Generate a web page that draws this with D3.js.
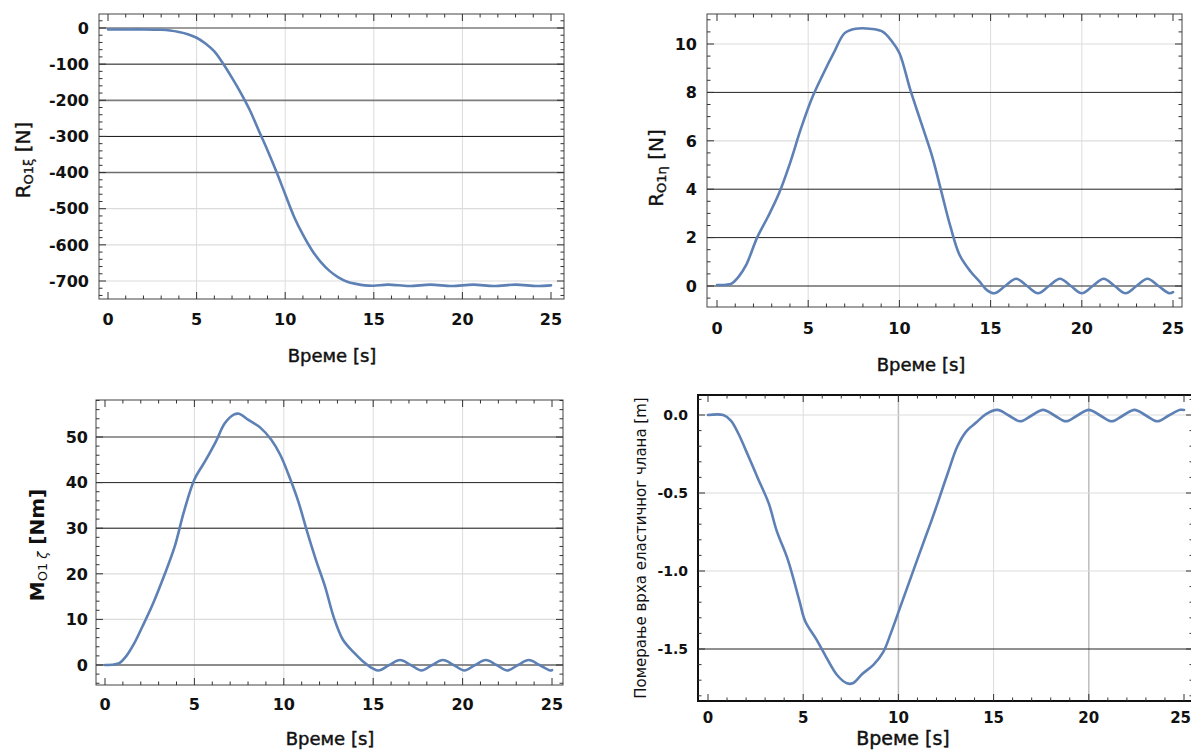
<!DOCTYPE html>
<html>
<head>
<meta charset="utf-8">
<script src="https://cdn.jsdelivr.net/npm/d3@7"></script>
<style>
  html, body { margin: 0; padding: 0; background: #fff; }
  svg { display: block; }
  text { font-family: "DejaVu Sans", Verdana, sans-serif; fill: #111; }
</style>
</head>
<body>
<svg id="chart" width="1191" height="751"></svg>
<script>
// ---------------- DATA ----------------
const xTicks = [0, 5, 10, 15, 20, 25];

// Panel 1: R_O1ξ [N]
const t1 = [0, 1, 2, 3, 3.5, 4, 4.5, 5, 5.5, 6, 6.5, 7, 7.5, 8, 8.5, 9, 9.5, 10, 10.5, 11, 11.5, 12, 12.5, 13, 13.5, 14, 14.5, 15, 15.8, 17, 18.2, 19.4, 20.6, 21.8, 23, 24.2, 25];
const r1 = [-4, -4, -4, -5, -7, -11, -17, -27, -43, -65, -99, -138, -180, -227, -283, -338, -397, -460, -522, -572, -614, -647, -672, -690, -702, -708, -712, -713, -710, -714, -710, -714, -710, -714, -710, -714, -712];
const yTicks1 = [0, -100, -200, -300, -400, -500, -600, -700];

// Panel 2: R_O1η [N]
const t2 = [0, 0.5, 0.8, 1.2, 1.6, 2.2, 2.8, 3.4, 4, 4.6, 5.2, 5.8, 6.4, 7, 7.6, 8.5, 9.1, 9.6, 10, 10.6, 11.2, 11.8, 12.3, 12.8, 13.3, 13.9, 14.4, 14.8, 15.2, 15.8, 16.4, 17, 17.6, 18.2, 18.8, 19.4, 20, 20.6, 21.2, 21.8, 22.4, 23, 23.6, 24.2, 24.8, 25];
const r2 = [0.04, 0.05, 0.1, 0.4, 0.87, 2.0, 2.87, 3.83, 5.07, 6.5, 7.75, 8.73, 9.63, 10.45, 10.63, 10.62, 10.5, 10.1, 9.63, 8.1, 6.73, 5.35, 3.9, 2.45, 1.28, 0.6, 0.18, -0.17, -0.3, 0, 0.3, 0, -0.3, 0, 0.3, 0, -0.3, 0, 0.3, 0, -0.3, 0, 0.3, 0, -0.3, -0.25];
const yTicks2 = [0, 2, 4, 6, 8, 10];

// Panel 3: M_O1ζ [Nm]
const t3 = [0, 0.5, 0.8, 1.2, 1.6, 2.1, 2.7, 3.3, 3.9, 4.4, 5, 5.6, 6.2, 6.7, 7.2, 7.5, 8, 8.7, 9.3, 9.8, 10.3, 10.8, 11.3, 11.8, 12.3, 12.8, 13.3, 13.9, 14.4, 15, 15.3, 15.9, 16.5, 17.1, 17.7, 18.3, 18.9, 19.5, 20.1, 20.7, 21.3, 21.9, 22.5, 23.1, 23.7, 24.3, 24.9, 25];
const m3 = [0, 0.1, 0.4, 2, 4.5, 8.5, 13.6, 19.5, 26, 33.4, 40.7, 44.7, 49, 53, 54.9, 55.1, 53.8, 52, 49.4, 46.1, 41.4, 36.0, 29.3, 23, 17.3, 10.4, 5.6, 2.8, 0.9, -0.8, -1.2, 0, 1.1, 0, -1.2, 0, 1.1, 0, -1.2, 0, 1.1, 0, -1.2, 0, 1.1, 0, -1.2, -1.1];
const yTicks3 = [0, 10, 20, 30, 40, 50];

// Panel 4: Померање врха еластичног члана [m]
const t4 = [0, 0.8, 1.2, 1.6, 2, 2.6, 3.2, 3.6, 4.2, 4.8, 5.1, 5.7, 6.2, 6.8, 7.3, 7.6, 8.1, 8.7, 9.2, 9.6, 10.1, 10.6, 11.1, 11.7, 12.1, 12.6, 13.1, 13.6, 14.1, 14.6, 15.2, 15.8, 16.4, 17, 17.6, 18.2, 18.8, 19.4, 20, 20.6, 21.2, 21.8, 22.4, 23, 23.6, 24.2, 24.8, 25];
const d4 = [0, 0, -0.036, -0.12, -0.23, -0.4, -0.57, -0.74, -0.93, -1.19, -1.32, -1.44, -1.55, -1.67, -1.72, -1.72, -1.66, -1.6, -1.52, -1.4, -1.23, -1.06, -0.89, -0.69, -0.55, -0.37, -0.2, -0.1, -0.047, 0.006, 0.033, -0.003, -0.04, -0.003, 0.033, -0.003, -0.04, -0.003, 0.033, -0.003, -0.04, -0.003, 0.033, -0.003, -0.04, -0.003, 0.033, 0.032];
const yTicks4 = [0, -0.5, -1.0, -1.5];

// ---------------- LAYOUT / STYLE ----------------
const svg = d3.select("#chart");
const LINE = "#5e81b5";
const LIGHT = "#dcdcdc";

const panels = [
  {
    t: t1, v: r1, yTicks: yTicks1, yMinor: 20, fmt: d => String(d),
    frame: {l: 99, r: 564, t: 14, b: 299},
    xr: [108, 551], yd: [0, -700], yr: [28, 281],
    grid: {"0": ["#7d7d7d", 1.6], "-100": ["#111", 1], "-200": ["#7d7d7d", 1.8], "-300": ["#111", 1], "-400": ["#6e6e6e", 1.5]},
    vgrid: {},
    tickFont: 16, yLabX: 89, xLabY: 325,
    xTitle: {x: 332, y: 362, size: 18},
    yTitle: {x: 30, y: 160, parts: [["R", 20, ""], ["O1ξ", 13, "sub"], [" [N]", 20, ""]]},
    frameColor: "#444", frameW: 1
  },
  {
    t: t2, v: r2, yTicks: yTicks2, yMinor: 0.5, fmt: d => String(d),
    frame: {l: 707, r: 1182, t: 14, b: 307},
    xr: [717, 1173], yd: [0, 10], yr: [286, 44],
    grid: {"8": ["#222", 1], "4": ["#222", 1], "2": ["#222", 1], "0": ["#222", 1]},
    vgrid: {},
    tickFont: 16, yLabX: 697, xLabY: 334,
    xTitle: {x: 921, y: 371, size: 18},
    yTitle: {x: 663, y: 168, parts: [["R", 20, ""], ["O1η", 13, "sub"], [" [N]", 20, ""]]},
    frameColor: "#444", frameW: 1
  },
  {
    t: t3, v: m3, yTicks: yTicks3, yMinor: 2, fmt: d => String(d),
    frame: {l: 96, r: 563, t: 400, b: 685},
    xr: [105, 552], yd: [0, 50], yr: [665, 437],
    grid: {"50": ["#333", 1], "40": ["#222", 1], "30": ["#111", 1], "0": ["#666", 1.3]},
    vgrid: {},
    tickFont: 16, yLabX: 88, xLabY: 710,
    xTitle: {x: 330, y: 745, size: 18},
    yTitle: {x: 44, y: 545, parts: [["M", 20, "bold"], ["O1 ", 13, "sub"], ["ζ", 13, "subi"], [" [Nm]", 20, "bold"]]},
    frameColor: "#444", frameW: 1
  },
  {
    t: t4, v: d4, yTicks: yTicks4, yMinor: 0.1, fmt: d => d.toFixed(1),
    frame: {l: 698, r: 1193, t: 395, b: 701},
    xr: [708, 1184], yd: [0, -1.5], yr: [415, 649],
    grid: {"-1.5": ["#222", 1]},
    vgrid: {"10": ["#bdbdbd", 1.5], "20": ["#bdbdbd", 1.5]},
    tickFont: 14, yLabX: 688, xLabY: 723,
    xTitle: {x: 903, y: 745, size: 19},
    yTitle: {x: 646, y: 548, parts: [["Померање врха еластичног члана [m]", 15, ""]]},
    frameColor: "#111", frameW: 2
  }
];

panels.forEach((p, i) => {
  const g = svg.append("g");
  const x = d3.scaleLinear().domain([0, 25]).range(p.xr);
  const y = d3.scaleLinear().domain(p.yd).range(p.yr);
  const f = p.frame;
  const xDom = [x.invert(f.l), x.invert(f.r)];
  const yDom = [y.invert(f.b), y.invert(f.t)];

  const clipId = "clip" + i;
  svg.append("defs").append("clipPath").attr("id", clipId)
    .append("rect").attr("x", f.l).attr("y", f.t).attr("width", f.r - f.l).attr("height", f.b - f.t);

  // vertical gridlines
  g.append("g").selectAll("line").data(xTicks.filter(d => d > 0 && d < 25)).join("line")
    .attr("x1", d => x(d)).attr("x2", d => x(d)).attr("y1", f.t).attr("y2", f.b)
    .attr("stroke", d => (p.vgrid[String(d)] || [LIGHT])[0])
    .attr("stroke-width", d => (p.vgrid[String(d)] || [LIGHT, 1])[1]);

  // horizontal gridlines
  g.append("g").selectAll("line").data(p.yTicks).join("line")
    .attr("x1", f.l).attr("x2", f.r).attr("y1", d => y(d)).attr("y2", d => y(d))
    .attr("stroke", d => (p.grid[String(d)] || [LIGHT])[0])
    .attr("stroke-width", d => (p.grid[String(d)] || [LIGHT, 1.2])[1]);

  // data line
  const pts = p.t.map((t, k) => [t, p.v[k]]);
  g.append("path").datum(pts)
    .attr("clip-path", `url(#${clipId})`)
    .attr("fill", "none").attr("stroke", LINE).attr("stroke-width", 2.6)
    .attr("stroke-linejoin", "round").attr("stroke-linecap", "round")
    .attr("d", d3.line().x(d => x(d[0])).y(d => y(d[1])).curve(d3.curveCatmullRom.alpha(0.5)));

  // frame
  g.append("rect").attr("x", f.l).attr("y", f.t).attr("width", f.r - f.l).attr("height", f.b - f.t)
    .attr("fill", "none").attr("stroke", p.frameColor).attr("stroke-width", p.frameW);

  // ticks on frame (inward)
  const xMinor = d3.range(Math.ceil(xDom[0]), Math.floor(xDom[1]) + 1, 1);
  const tg = g.append("g").attr("stroke", "#333").attr("stroke-width", 1);
  xMinor.forEach(d => {
    const len = (d % 5 === 0) ? 7 : 3.5;
    tg.append("line").attr("x1", x(d)).attr("x2", x(d)).attr("y1", f.b).attr("y2", f.b - len);
    tg.append("line").attr("x1", x(d)).attr("x2", x(d)).attr("y1", f.t).attr("y2", f.t + len);
  });
  const major = p.yTicks[1] - p.yTicks[0];
  const step = p.yMinor;
  const kStart = Math.ceil(yDom[0] / step - 1e-9), kEnd = Math.floor(yDom[1] / step + 1e-9);
  for (let k = kStart; k <= kEnd; k++) {
    const v = k * step;
    const isMajor = Math.abs(v / major - Math.round(v / major)) < 1e-6;
    const len = isMajor ? 7 : 3.5;
    tg.append("line").attr("x1", f.l).attr("x2", f.l + len).attr("y1", y(v)).attr("y2", y(v));
    tg.append("line").attr("x1", f.r).attr("x2", f.r - len).attr("y1", y(v)).attr("y2", y(v));
  }

  // tick labels
  g.append("g").selectAll("text").data(xTicks).join("text")
    .attr("x", d => (i === 3 && d === 25) ? 1191 : x(d)).attr("y", p.xLabY)
    .attr("text-anchor", d => (i === 3 && d === 25) ? "end" : "middle")
    .attr("font-size", p.tickFont + (i === 3 ? 1 : 0)).attr("font-weight", "bold")
    .text(d => String(d));
  g.append("g").selectAll("text").data(p.yTicks).join("text")
    .attr("x", p.yLabX).attr("y", d => y(d)).attr("dy", "0.36em").attr("text-anchor", "end")
    .attr("font-size", p.tickFont).attr("font-weight", "bold")
    .text(p.fmt);

  // x title
  g.append("text").attr("x", p.xTitle.x).attr("y", p.xTitle.y).attr("text-anchor", "middle")
    .attr("font-size", p.xTitle.size).attr("stroke", "#111").attr("stroke-width", 0.45)
    .text("Време [s]");

  // y title
  const yt = g.append("text").attr("transform", `translate(${p.yTitle.x},${p.yTitle.y}) rotate(-90)`)
    .attr("text-anchor", "middle");
  if (i < 2) yt.attr("stroke", "#111").attr("stroke-width", 0.35);
  p.yTitle.parts.forEach(([txt, size, kind]) => {
    const ts = yt.append("tspan").attr("font-size", size).text(txt);
    if (kind === "sub" || kind === "subi") ts.attr("baseline-shift", "-25%");
    if (kind === "subi") ts.attr("font-style", "italic");
    if (kind === "bold") ts.attr("font-weight", "bold");
  });
});
</script>
</body>
</html>
